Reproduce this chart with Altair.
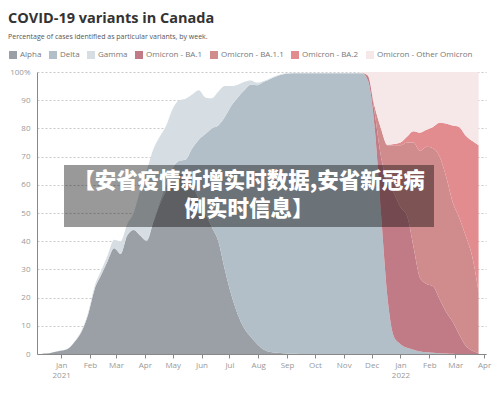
import altair as alt
import pandas as pd

# Weekly reporting dates (Saturdays)
weeks = pd.date_range("2020-12-12", periods=68, freq="7D")

variants = ["Alpha", "Delta", "Gamma", "Omicron - BA.1", "Omicron - BA.1.1",
            "Omicron - BA.2", "Omicron - Other Omicron"]
colors = ["#9b9fa6", "#b2bfc8", "#d6dee3", "#c17b86", "#d08b8c", "#e28c90", "#f6e8e9"]

# Percent of cases per variant, by week
alpha = [0.2, 0.3, 0.8, 1.2, 2, 4.5, 8, 14, 23, 28,
         33, 37.5, 35.5, 42, 44, 42, 40, 46.5, 53, 58,
         62, 64, 63, 60, 55, 50, 45, 40, 30, 21,
         14, 9, 6, 3.5, 1.5, 0.7, 0.4, 0.3, 0.2, 0.1,
         0, 0, 0, 0, 0, 0, 0, 0, 0, 0,
         0, 0, 0, 0, 0, 0, 0, 0, 0, 0,
         0, 0, 0, 0, 0, 0, 0, 0]
delta = [0, 0, 0, 0, 0, 0, 0, 0, 0, 0,
         0, 0, 0, 0, 0, 0, 0.3, 0.5, 1, 2,
         4, 4.5, 6, 13, 21, 28, 35, 41, 54, 67,
         77, 84.5, 89.5, 91.8, 95, 96.8, 98.1, 98.9, 99.3, 99.5,
         99.6, 99.6, 99.6, 99.6, 99.6, 99.6, 99.6, 99.6, 99.6, 99.6,
         97, 81, 50, 20, 6, 3.5, 2.2, 1.5, 0.9, 0.6,
         0.4, 0.3, 0.2, 0.1, 0, 0, 0, 0]
gamma = [0, 0, 0, 0, 0.1, 0.2, 0.4, 0.6, 1, 1.5,
         2, 3, 4.5, 4, 6, 16, 24.7, 25.5, 23, 21,
         21, 21.5, 21.5, 19, 17.5, 13, 10.7, 12, 11, 7,
         4.5, 3, 1.5, 0.9, 0.3, 0.3, 0.3, 0.2, 0.2, 0.1,
         0.1, 0.1, 0.1, 0.1, 0.1, 0.1, 0.1, 0.1, 0.1, 0.1,
         0, 0, 0, 0, 0, 0, 0, 0, 0, 0,
         0, 0, 0, 0, 0, 0, 0, 0]
ba1 = [0, 0, 0, 0, 0, 0, 0, 0, 0, 0,
       0, 0, 0, 0, 0, 0, 0, 0, 0, 0,
       0, 0, 0, 0, 0, 0, 0, 0, 0, 0,
       0, 0, 0, 0, 0, 0, 0, 0, 0, 0,
       0, 0, 0, 0, 0, 0, 0, 0, 0, 0,
       1.5, 5, 20, 41, 51, 48.5, 46.8, 36.5, 26.1, 24.2,
       23.6, 19.2, 14.8, 11.4, 7, 3, 1.2, 0.3]
ba11 = [0, 0, 0, 0, 0, 0, 0, 0, 0, 0,
        0, 0, 0, 0, 0, 0, 0, 0, 0, 0,
        0, 0, 0, 0, 0, 0, 0, 0, 0, 0,
        0, 0, 0, 0, 0, 0, 0, 0, 0, 0,
        0, 0, 0, 0, 0, 0, 0, 0, 0, 0,
        0.3, 2, 10, 13, 17, 22, 26, 37, 45, 48.7,
        49, 50.5, 48, 42.5, 41.5, 39, 33.6, 21.7]
ba2 = [0, 0, 0, 0, 0, 0, 0, 0, 0, 0,
       0, 0, 0, 0, 0, 0, 0, 0, 0, 0,
       0, 0, 0, 0, 0, 0, 0, 0, 0, 0,
       0, 0, 0, 0, 0, 0, 0, 0, 0, 0,
       0, 0, 0, 0, 0, 0, 0, 0, 0, 0,
       0, 0, 0, 0.2, 0.5, 1, 2, 4, 6.5, 6,
       7.5, 12, 18.7, 27, 32, 35.5, 40.8, 52]
other = [0, 0, 0, 0, 0, 0, 0, 0, 0, 0,
         0, 0, 0, 0, 0, 0, 0, 0, 0, 0,
         0, 0, 0, 0, 0, 0, 0, 0, 0, 0,
         0, 0, 0, 0, 0, 0, 0, 0, 0, 0,
         0, 0, 0, 0, 0, 0, 0, 0, 0, 0.3,
         1.2, 12, 20, 25.8, 25.5, 25, 23, 21, 21.5, 20.5,
         19.5, 18, 18.3, 19, 19.5, 22.5, 24.4, 26]

y_ticks = [0, 10, 20, 30, 40, 50, 60, 70, 80, 90, 100]
x_domain = ["2020-12-06", "2022-04-03"]
banner_lines = ["【安省疫情新增实时数据,安省新冠病", "例实时信息】"]

series = [alpha, delta, gamma, ba1, ba11, ba2, other]
rows = []
for k, (name, vals) in enumerate(zip(variants, series)):
    for d, v in zip(weeks, vals):
        rows.append({"week": d, "variant": name, "pct": v, "k": k})
df = pd.DataFrame(rows)

area = alt.Chart(df).mark_area(interpolate="monotone").encode(
    x=alt.X("week:T", title=None,
            scale=alt.Scale(domain=x_domain),
            axis=alt.Axis(tickCount={"interval": "month", "step": 1}, grid=False,
                          labelExpr="month(datum.value) == 0 ? [timeFormat(datum.value, '%b'), timeFormat(datum.value, '%Y')] : timeFormat(datum.value, '%b')",
                          tickSize=4, labelPadding=3, labelLineHeight=10,
                          domainColor="#888", tickColor="#888")),
    y=alt.Y("pct:Q", stack="zero", title=None,
            scale=alt.Scale(domain=[0, 100], nice=False),
            axis=alt.Axis(values=y_ticks, ticks=False, labelPadding=7,
                          labelExpr="datum.value == 100 ? '100%' : datum.label",
                          grid=True, gridDash=[2, 2], gridColor="#c8c8c8",
                          domainColor="#888")),
    color=alt.Color("variant:N", sort=variants,
                    scale=alt.Scale(domain=variants, range=colors),
                    legend=alt.Legend(orient="none", legendX=-28, legendY=-21,
                                      direction="horizontal", title=None,
                                      symbolType="square", symbolSize=64,
                                      symbolStrokeWidth=0, symbolOpacity=1,
                                      labelFontSize=8, labelColor="#777",
                                      labelFont="Open Sans", columnPadding=7,
                                      labelOffset=3)),
    order=alt.Order("k:Q", sort="ascending"),
)

one = pd.DataFrame({"a": [0]})
banner = alt.Chart(one).mark_rect(color="black", opacity=0.4).encode(
    x=alt.value(27), x2=alt.value(397), y=alt.value(93), y2=alt.value(155)
)
line1 = alt.Chart(one).mark_text(
    text=banner_lines[0], font="Noto Sans CJK SC", fontWeight=900, fontSize=21.5,
    color="white", align="center", baseline="middle"
).encode(x=alt.value(212), y=alt.value(110))
line2 = alt.Chart(one).mark_text(
    text=banner_lines[1], font="Noto Sans CJK SC", fontWeight=900, fontSize=21.5,
    color="white", align="center", baseline="middle"
).encode(x=alt.value(212), y=alt.value(138))

chart = alt.layer(area, banner, line1, line2).properties(
    width=449, height=282,
    title=alt.TitleParams(
        "COVID-19 variants in Canada",
        subtitle=["Percentage of cases identified as particular variants, by week."],
        anchor="start", frame="group", dx=-29,
        font="Open Sans", fontSize=14.5, fontWeight="bold", color="#333",
        subtitleFont="Open Sans", subtitleFontSize=7, subtitleColor="#555",
        subtitlePadding=7, offset=10,
    ),
    padding={"left": 29, "top": 64, "right": 6, "bottom": 30},
    autosize=alt.AutoSizeParams(type="none"),
).configure_view(stroke=None).configure_axis(
    labelFont="Open Sans", labelFontSize=8, labelColor="#999"
)

chart.save("out.html", embed_options={"renderer": "svg", "actions": False})
